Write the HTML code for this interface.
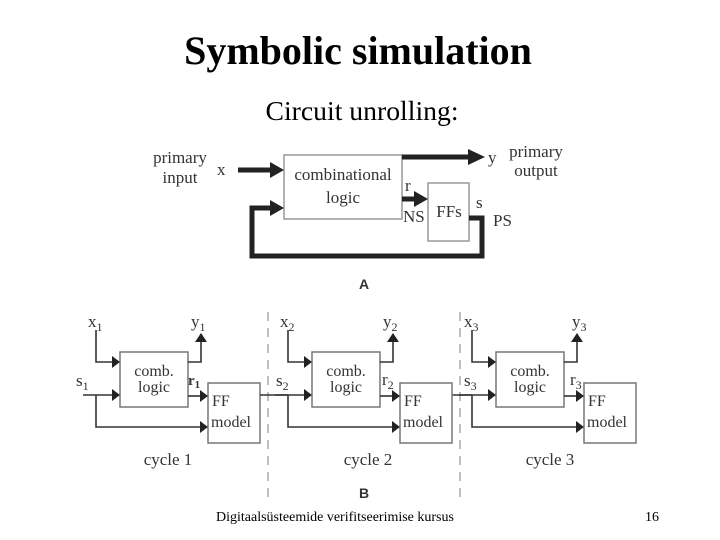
<!DOCTYPE html>
<html><head><style>
body{margin:0;width:720px;height:540px;background:#fff;overflow:hidden}
svg{position:absolute;left:0;top:0}
</style></head><body>
<svg width="720" height="540" viewBox="0 0 720 540" xmlns="http://www.w3.org/2000/svg">
<text x="358" y="64" font-family="Liberation Serif" font-weight="bold" font-size="40" text-anchor="middle">Symbolic simulation</text>
<text x="362" y="120" font-family="Liberation Serif" font-size="27.7" text-anchor="middle">Circuit unrolling:</text>

<g font-family="Liberation Serif" fill="#333" font-size="17">
<text x="180" y="163" text-anchor="middle">primary</text>
<text x="180" y="183" text-anchor="middle">input</text>
<text x="217" y="175">x</text>
<text x="488" y="163">y</text>
<text x="536" y="157" text-anchor="middle">primary</text>
<text x="536" y="176" text-anchor="middle">output</text>
<text x="343" y="180" text-anchor="middle">combinational</text>
<text x="343" y="203" text-anchor="middle">logic</text>
<text x="405" y="191">r</text>
<text x="403" y="222">NS</text>
<text x="449" y="217" text-anchor="middle">FFs</text>
<text x="476" y="208">s</text>
<text x="493" y="226">PS</text>
</g>
<rect x="284" y="155" width="118" height="64" fill="none" stroke="#999" stroke-width="1.5"/>
<rect x="428" y="183" width="41" height="58" fill="none" stroke="#999" stroke-width="1.5"/>
<g stroke="#222" stroke-width="5" fill="none">
<path d="M238,170H272"/>
<path d="M402,157H470"/>
<path d="M402,199H416"/>
<path d="M469,218H482V256H252V208H272"/>
</g>
<g fill="#222">
<path d="M270,162L284,170L270,178z"/>
<path d="M468,149L485,157L468,165z"/>
<path d="M414,191L428,199L414,207z"/>
<path d="M270,200L284,208L270,216z"/>
</g>
<text x="364" y="289" font-family="Liberation Sans" font-weight="bold" font-size="14" fill="#333" text-anchor="middle">A</text>

<g stroke="#aaa" stroke-width="1.5" stroke-dasharray="9,7">
<path d="M268,312V500"/><path d="M460,312V500"/>
</g>

<g id="c1">
<rect x="120" y="352" width="68" height="55" fill="none" stroke="#777" stroke-width="1.5"/>
<rect x="208" y="383" width="52" height="60" fill="none" stroke="#777" stroke-width="1.5"/>
<g stroke="#333" stroke-width="1.6" fill="none">
<path d="M96,330V362H114"/>
<path d="M188,362H201V340"/>
<path d="M83,395H114"/>
<path d="M96,395V427H202"/>
<path d="M188,396H202"/>
</g>
<g fill="#222">
<path d="M112,356L120,362L112,368z"/>
<path d="M195,342L201,333L207,342z"/>
<path d="M112,389L120,395L112,401z"/>
<path d="M200,421L208,427L200,433z"/>
<path d="M200,390L208,396L200,402z"/>
</g>
<g font-family="Liberation Serif" fill="#333" font-size="16">
<text x="154" y="376" text-anchor="middle">comb.</text>
<text x="154" y="392" text-anchor="middle">logic</text>
<text x="212" y="406">FF</text>
<text x="211" y="427">model</text>
</g>
</g>
<g stroke="#333" stroke-width="1.6"><path d="M260,395H288"/><path d="M452,395H472"/></g>
<g font-family="Liberation Serif" fill="#333" font-size="17">
<text x="88" y="327">x<tspan font-size="12" dy="4">1</tspan></text>
<text x="191" y="327">y<tspan font-size="12" dy="4">1</tspan></text>
<text x="76" y="386">s<tspan font-size="12" dy="4">1</tspan></text>
<text x="188" y="385" font-weight="bold" font-size="15">r<tspan font-size="11" dy="3">1</tspan></text>
<text x="168" y="465" text-anchor="middle">cycle 1</text>
<text x="280" y="327">x<tspan font-size="12" dy="4">2</tspan></text>
<text x="383" y="327">y<tspan font-size="12" dy="4">2</tspan></text>
<text x="276" y="386">s<tspan font-size="12" dy="4">2</tspan></text>
<text x="382" y="385">r<tspan font-size="12" dy="4">2</tspan></text>
<text x="368" y="465" text-anchor="middle">cycle 2</text>
<text x="464" y="327">x<tspan font-size="12" dy="4">3</tspan></text>
<text x="572" y="327">y<tspan font-size="12" dy="4">3</tspan></text>
<text x="464" y="386">s<tspan font-size="12" dy="4">3</tspan></text>
<text x="570" y="385">r<tspan font-size="12" dy="4">3</tspan></text>
<text x="550" y="465" text-anchor="middle">cycle 3</text>
</g>
<use href="#c1" transform="translate(192,0)"/>
<use href="#c1" transform="translate(376,0)"/>
<text x="364" y="498" font-family="Liberation Sans" font-weight="bold" font-size="14" fill="#333" text-anchor="middle">B</text>

<text x="335" y="521" font-family="Liberation Serif" font-size="14" text-anchor="middle">Digitaalsüsteemide verifitseerimise kursus</text>
<text x="652" y="521" font-family="Liberation Serif" font-size="14" text-anchor="middle">16</text>
</svg>
</body></html>
